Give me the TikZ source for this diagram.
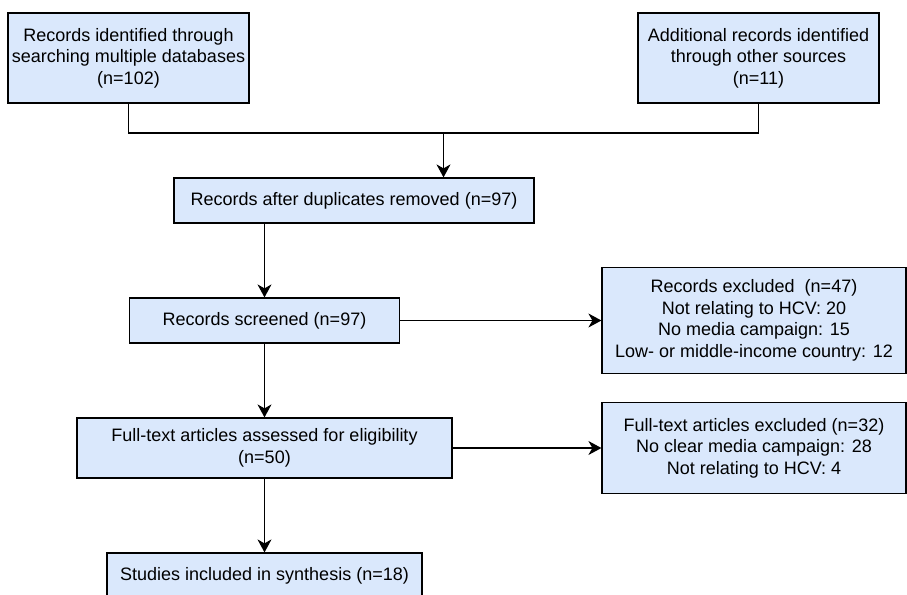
\documentclass[tikz,border=0pt]{standalone}
\usepackage{fontspec}
\setmainfont{Liberation Sans}
\usetikzlibrary{arrows.meta}
\definecolor{boxblue}{HTML}{DAE8FC}

\begin{document}
\begin{tikzpicture}[x=1pt,y=-1pt,
  box/.style={draw=black,line width=1.2pt,fill=boxblue,align=center,inner sep=0pt,
    font=\fontsize{18}{21.6}\selectfont},
  arrow/.style={line width=1.2pt,-{Stealth[length=13pt,width=14pt,inset=4pt]}}]
\path[use as bounding box,clip] (0,0) rectangle (907,594);
% identification
\node[box,minimum width=241pt,minimum height=90pt] (ident) at (128.5,58) {Records identified through\\searching multiple databases\\(n=102)};
\node[box,minimum width=241pt,minimum height=90pt] (other) at (758.5,58) {Additional records identified\\through other sources\\(n=11)};
% screening
\node[box,minimum width=360pt,minimum height=45pt] (dupl) at (354,200.5) {Records after duplicates removed (n=97)};
\node[box,minimum width=270pt,minimum height=45pt] (screen) at (264.5,320.5) {Records screened (n=97)};
\node[box,minimum width=304pt,minimum height=106pt] (excl) at (754,320.5) {Records excluded~ (n=47)\\Not relating to HCV: 20\\No media campaign: 15\\Low- or middle-income country: 12};
% eligibility
\node[box,minimum width=375pt,minimum height=60pt] (fulltext) at (264.5,448) {Full-text articles assessed for eligibility\\(n=50)};
\node[box,minimum width=304pt,minimum height=91pt] (ftexcl) at (754,448) {Full-text articles excluded (n=32)\\No clear media campaign: 28\\Not relating to HCV: 4};
% included
\node[box,minimum width=315pt,minimum height=45pt] (incl) at (264.5,575.5) {Studies included in synthesis (n=18)};
% connectors
\coordinate (join) at (443.5,133);
\draw[line width=1.2pt] (ident.south) |- (join) -| (other.south);
\draw[arrow] (join) -- (join |- dupl.north);
\draw[arrow] (dupl.south -| screen.north) -- (screen.north);
\draw[arrow] (screen.east) -- (excl.west);
\draw[arrow] (screen.south) -- (fulltext.north);
\draw[arrow] (fulltext.east) -- (ftexcl.west);
\draw[arrow] (fulltext.south) -- (incl.north);
\end{tikzpicture}
\end{document}
